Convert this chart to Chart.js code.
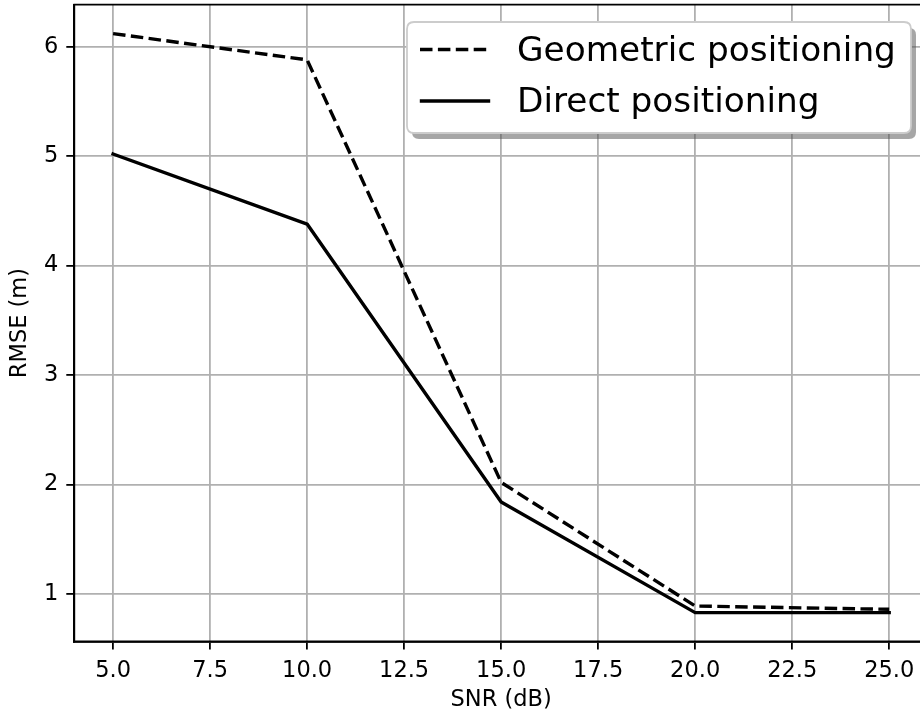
<!DOCTYPE html>
<html><head><meta charset="utf-8">
<script src="https://cdn.jsdelivr.net/npm/chart.js@4.4.0/dist/chart.umd.min.js"></script>
<style>
html,body{margin:0;padding:0;overflow:hidden;background:#fff;width:920px;height:715px}
#wrap{position:absolute;left:0;top:0;width:940px;height:715px}
</style></head><body><div id="wrap"><canvas id="c" width="940" height="715"></canvas></div>
<script>
const snr = [5, 10, 15, 20, 25];
const geometricRmse = [6.12, 5.88, 2.02, 0.89, 0.86];
const directRmse = [5.02, 4.38, 1.84, 0.83, 0.83];
const xTicks = [5, 7.5, 10, 12.5, 15, 17.5, 20, 22.5, 25];
const yTicks = [1, 2, 3, 4, 5, 6];
const seriesNames = ['Geometric positioning', 'Direct positioning'];
const xTitle = 'SNR (dB)';
const yTitle = 'RMSE (m)';

const FONT = 'DejaVu Sans';
const LW = 3.4;

const toPts = (xs, ys) => xs.map((x, i) => ({x: x, y: ys[i]}));

const spinePlugin = {
  id: 'spines',
  afterDatasetsDraw(chart) {
    const {ctx, chartArea: a} = chart;
    ctx.save();
    ctx.strokeStyle = '#000';
    ctx.lineWidth = 1.8;
    ctx.lineCap = 'square';
    ctx.beginPath();
    ctx.moveTo(a.left, a.top); ctx.lineTo(a.right, a.top);
    ctx.moveTo(a.right, a.top); ctx.lineTo(a.right, a.bottom);
    ctx.moveTo(a.left, a.top); ctx.lineTo(a.left, a.bottom);
    ctx.moveTo(a.left, a.bottom); ctx.lineTo(a.right, a.bottom);
    ctx.stroke();
    ctx.restore();
  }
};

function roundRect(ctx, x, y, w, h, r) {
  ctx.beginPath();
  ctx.moveTo(x + r, y);
  ctx.lineTo(x + w - r, y);
  ctx.quadraticCurveTo(x + w, y, x + w, y + r);
  ctx.lineTo(x + w, y + h - r);
  ctx.quadraticCurveTo(x + w, y + h, x + w - r, y + h);
  ctx.lineTo(x + r, y + h);
  ctx.quadraticCurveTo(x, y + h, x, y + h - r);
  ctx.lineTo(x, y + r);
  ctx.quadraticCurveTo(x, y, x + r, y);
  ctx.closePath();
}

const legendPlugin = {
  id: 'mplLegend',
  afterDraw(chart) {
    const {ctx} = chart;
    const bx = 407, by = 22, bw = 504, bh = 111, r = 7;
    ctx.save();
    roundRect(ctx, bx + 5, by + 6, bw, bh, r);
    ctx.fillStyle = 'rgba(77,77,77,0.5)';
    ctx.fill();
    roundRect(ctx, bx, by, bw, bh, r);
    ctx.fillStyle = '#ffffff';
    ctx.fill();
    ctx.strokeStyle = '#cccccc';
    ctx.lineWidth = 1.8;
    ctx.stroke();
    const rows = [49.5, 101];
    chart.data.datasets.forEach((ds, i) => {
      const y = rows[i];
      const dashed = ds.borderDash && ds.borderDash.length;
      ctx.beginPath();
      ctx.setLineDash(ds.borderDash || []);
      ctx.lineWidth = ds.borderWidth;
      ctx.strokeStyle = ds.borderColor;
      ctx.lineCap = ds.borderCapStyle || 'butt';
      ctx.moveTo(dashed ? 420 : 421.5, y);
      ctx.lineTo(dashed ? 490 : 488.5, y);
      ctx.stroke();
      ctx.setLineDash([]);
      ctx.fillStyle = '#000';
      ctx.font = '34.3px "' + FONT + '"';
      ctx.textBaseline = 'alphabetic';
      ctx.textAlign = 'left';
      ctx.fillText(ds.label, 517, y + 11);
    });
    ctx.restore();
  }
};

new Chart(document.getElementById('c'), {
  type: 'line',
  data: {
    datasets: [
      {
        label: seriesNames[0],
        data: toPts(snr, geometricRmse),
        borderColor: '#000',
        borderWidth: LW,
        borderDash: [12.5, 5.4],
        borderCapStyle: 'butt',
        borderJoinStyle: 'round',
        pointRadius: 0,
        tension: 0,
        fill: false
      },
      {
        label: seriesNames[1],
        data: toPts(snr, directRmse),
        borderColor: '#000',
        borderWidth: LW,
        borderCapStyle: 'square',
        borderJoinStyle: 'round',
        pointRadius: 0,
        tension: 0,
        fill: false
      }
    ]
  },
  options: {
    responsive: false,
    animation: false,
    devicePixelRatio: 1,
    layout: {padding: {top: 4.6, right: 12, left: 0, bottom: 0}},
    plugins: {legend: {display: false}, tooltip: {enabled: false}},
    scales: {
      x: {
        type: 'linear',
        min: 4, max: 26,
        afterBuildTicks: s => { s.ticks = xTicks.map(v => ({value: v})); },
        afterFit: s => { s.height = 73.5; s.paddingLeft = 0; s.paddingRight = 0; },
        ticks: {
          color: '#000',
          font: {family: FONT, size: 22.5},
          padding: 8,
          maxRotation: 0,
          autoSkip: false,
          callback: v => Number(v).toFixed(1)
        },
        grid: {
          color: '#b0b0b0', lineWidth: 1.8,
          drawTicks: true, tickLength: 8, tickColor: '#000', tickWidth: 1.8
        },
        border: {display: true, color: '#000', width: 1.8},
        title: {
          display: true, text: xTitle, color: '#000',
          font: {family: FONT, size: 22.5},
          padding: {top: 0, bottom: 1}
        }
      },
      y: {
        type: 'linear',
        min: 0.566, max: 6.385,
        afterBuildTicks: s => { s.ticks = yTicks.map(v => ({value: v})); },
        afterFit: s => { s.width = 74.3; s.paddingTop = 0; s.paddingBottom = 0; },
        ticks: {
          color: '#000',
          font: {family: FONT, size: 22.5},
          padding: 8,
          autoSkip: false,
          callback: v => String(v)
        },
        grid: {
          color: '#b0b0b0', lineWidth: 1.8,
          drawTicks: true, tickLength: 8, tickColor: '#000', tickWidth: 1.8
        },
        border: {display: true, color: '#000', width: 1.8},
        title: {
          display: true, text: yTitle, color: '#000',
          font: {family: FONT, size: 22.5},
          padding: {top: 6.5, bottom: 0}
        }
      }
    }
  },
  plugins: [spinePlugin, legendPlugin]
});
</script>
</body></html>
